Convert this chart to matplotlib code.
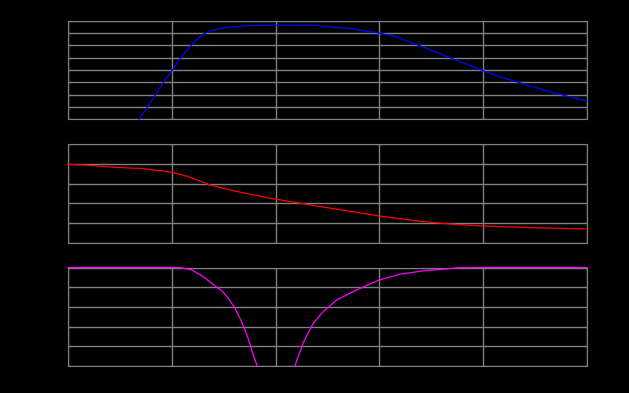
import matplotlib
matplotlib.use("Agg")
import matplotlib.pyplot as plt

nan = float("nan")

# magnitude (top)
f_mag = [4.86, 6.17, 7.99, 9.98, 12.46, 14.97, 17.38, 20.12, 23.3, 29.1, 39.1, 56.7, 137.6, 214.5, 320, 557,
         650, 1000, 1361, 1971, 2856, 4127, 5977, 10020, 14520, 22620, 44000, 100000]
mag = [0, 1.28, 2.78, 3.92, 5.09, 5.9, 6.45, 6.91, 7.18, 7.37, 7.51, 7.62, 7.65, 7.65, 7.53, 7.35,
       7.24, 7.0, 6.78, 6.26, 5.77, 5.22, 4.68, 3.94, 3.45, 2.96, 2.23, 1.47]

# phase (middle)
f_ph = [1, 1.46, 2.84, 4.94, 6.63, 8.28, 9.98, 12.0, 14.97, 18.7, 23.3, 31.3, 45.4, 65.8, 98.7, 148, 268,
        1000, 2460, 4790, 10000, 28200, 100000]
ph = [3.97, 3.94, 3.82, 3.77, 3.69, 3.64, 3.57, 3.47, 3.32, 3.13, 2.93, 2.76, 2.56, 2.39, 2.21, 2.06, 1.83,
      1.35, 1.08, 0.94, 0.84, 0.76, 0.69]

# third trace (bottom), gap at the notch
f_c = [1, 12.0, 15.55, 20.12, 25.1, 30.3, 35.0, 40.6, 47.2, 54.6, 61.0, 66.6, 100, 153.8, 185, 211, 231,
       288, 388, 604, 1000, 1580, 2650, 5555, 10000, 100000]
c = [5, 5, 4.88, 4.54, 4.14, 3.82, 3.45, 2.94, 2.24, 1.39, 0.55, 0, nan, 0, 1.18, 1.77, 2.16,
     2.76, 3.35, 3.86, 4.37, 4.66, 4.83, 4.98, 5.0, 5.0]

fig, axs = plt.subplots(3, 1, figsize=(6.29, 3.93), dpi=100, facecolor="black")
fig.subplots_adjust(left=0.108, right=0.933, top=0.947, bottom=0.069, hspace=0.254)

traces = [(f_mag, mag, "blue", 8), (f_ph, ph, "red", 5), (f_c, c, "magenta", 5)]
for ax, (f, y, col, n) in zip(axs, traces):
    ax.set_facecolor("black")
    ax.semilogx(f, y, color=col, lw=0.9, clip_on=False, zorder=3)
    ax.set_xlim(1, 1e5)
    ax.set_ylim(0, n)
    ax.set_yticks(range(n + 1))
    ax.set_xticks([1, 10, 100, 1000, 10000, 100000])
    ax.minorticks_off()
    ax.grid(True, color="gray", lw=1.0)
    # tick labels are black on black, as in the original
    ax.tick_params(colors="black", labelsize=7)
    for s in ax.spines.values():
        s.set_color("gray")

fig.savefig("out.png", facecolor="black")
